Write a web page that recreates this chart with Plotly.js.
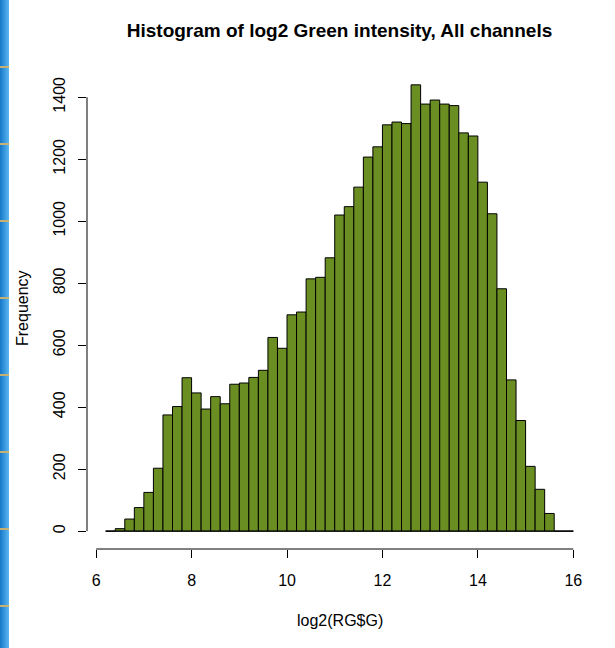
<!DOCTYPE html>
<html>
<head>
<meta charset="utf-8">
<script src="https://cdn.plot.ly/plotly-3.0.1.min.js"></script>
<style>
html, body { margin: 0; padding: 0; background: #ffffff; }
#chart { width: 615px; height: 648px; position: absolute; left: 0; top: 0; }
#strip { position: absolute; left: 0; top: 0; width: 9px; height: 648px;
  background:
    repeating-linear-gradient(to bottom, transparent 0px, transparent 66px, #c8b070 66px, #c8b070 68px, transparent 68px, transparent 77px),
    linear-gradient(to right, #1577c8, #5cb6f2);
}
</style>
</head>
<body>
<div id="chart"></div>
<div id="strip"></div>
<script>
// Histogram bins (left edges, width 0.2) and counts
const binLeft = [6.2, 6.4, 6.6, 6.8, 7.0, 7.2, 7.4, 7.6, 7.8, 8.0,
                 8.2, 8.4, 8.6, 8.8, 9.0, 9.2, 9.4, 9.6, 9.8, 10.0,
                 10.2, 10.4, 10.6, 10.8, 11.0, 11.2, 11.4, 11.6, 11.8, 12.0,
                 12.2, 12.4, 12.6, 12.8, 13.0, 13.2, 13.4, 13.6, 13.8, 14.0,
                 14.2, 14.4, 14.6, 14.8, 15.0, 15.2, 15.4, 15.6, 15.8];
const binWidth = 0.2;
const counts = [0, 8, 39, 76, 125, 203, 375, 402, 495, 446,
                394, 434, 411, 474, 478, 496, 519, 625, 590, 698,
                707, 814, 819, 882, 1020, 1047, 1110, 1207, 1240, 1311,
                1320, 1315, 1440, 1378, 1391, 1378, 1373, 1285, 1275, 1126,
                1024, 782, 488, 357, 209, 135, 57, 0, 0];
const xTicks = [6, 8, 10, 12, 14, 16];
const yTicks = [0, 200, 400, 600, 800, 1000, 1200, 1400];
const titleText = "Histogram of log2 Green intensity, All channels";
const xLabel = "log2(RG$G)";
const yLabel = "Frequency";

const FONT = "Liberation Sans, Arial, Helvetica, sans-serif";

// R-style axis ranges: extend data range by 4% each side
const xLo = binLeft[0], xHi = binLeft[binLeft.length - 1] + binWidth;
const xPad = 0.04 * (xHi - xLo);
const yHi = Math.max(...counts);
const yPad = 0.04 * yHi;

const trace = {
  type: "bar",
  x: binLeft,
  y: counts,
  offset: 0,
  width: binWidth,
  marker: { color: "#6b8e23", line: { color: "#000000", width: 1 } },
  hoverinfo: "x+y"
};

const layout = {
  width: 615, height: 648,
  margin: { l: 87, r: 23, t: 67, b: 99, autoexpand: false },
  paper_bgcolor: "#ffffff",
  plot_bgcolor: "#ffffff",
  showlegend: false,
  bargap: 0,
  font: { family: FONT, size: 16, color: "#000000" },
  title: {
    text: titleText,
    font: { family: FONT, size: 19, weight: "bold", color: "#000000" },
    xref: "paper", x: 0.5, xanchor: "center",
    yref: "container", y: 1 - 30 / 648, yanchor: "middle"
  },
  xaxis: {
    range: [xLo - xPad, xHi + xPad],
    tickmode: "array", tickvals: xTicks, ticktext: xTicks.map(String),
    ticks: "outside", ticklen: 8, tickwidth: 1, tickcolor: "#000000",
    ticklabelstandoff: 9,
    showline: false, showgrid: false, zeroline: false,
    tickfont: { family: FONT, size: 16, color: "#000000" }
  },
  yaxis: {
    range: [-yPad, yHi + yPad],
    tickmode: "array", tickvals: yTicks, ticktext: yTicks.map(String),
    ticks: "outside", ticklen: 8, tickwidth: 1, tickcolor: "#000000",
    ticklabelstandoff: 7,
    tickangle: -90,
    showline: false, showgrid: false, zeroline: false,
    tickfont: { family: FONT, size: 16, color: "#000000" }
  },
  shapes: [
    // x axis line between first and last tick (R style)
    { type: "line", xref: "x", yref: "paper", x0: xTicks[0], x1: xTicks[xTicks.length - 1], y0: 0, y1: 0,
      line: { color: "#000000", width: 1 } },
    // y axis line between first and last tick
    { type: "line", xref: "paper", yref: "y", x0: 0, x1: 0, y0: yTicks[0], y1: yTicks[yTicks.length - 1],
      line: { color: "#000000", width: 1 } },
    // histogram baseline across all bins (including empty ones)
    { type: "line", xref: "x", yref: "y", x0: xLo, x1: xHi, y0: 0, y1: 0,
      line: { color: "#000000", width: 1 } }
  ],
  annotations: [
    { text: xLabel, xref: "paper", yref: "paper", x: 0.5, y: -(620 - 549) / 482,
      xanchor: "center", yanchor: "middle", showarrow: false,
      font: { family: FONT, size: 16, color: "#000000" } },
    { text: yLabel, xref: "paper", yref: "paper", x: -(87 - 22) / 505, y: 0.5,
      xanchor: "center", yanchor: "middle", textangle: -90, showarrow: false,
      font: { family: FONT, size: 16, color: "#000000" } }
  ]
};

Plotly.newPlot("chart", [trace], layout, { displayModeBar: false, staticPlot: true });
</script>
</body>
</html>
